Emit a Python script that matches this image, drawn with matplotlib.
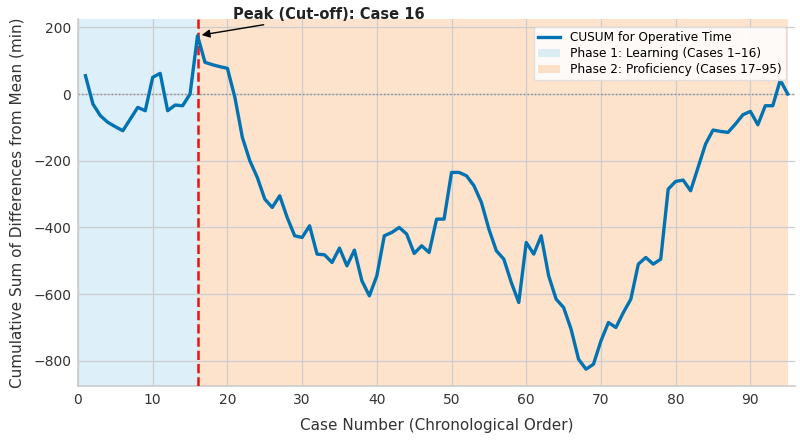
import numpy as np
import matplotlib.pyplot as plt

# CUSUM values, cases 1..95
cases = np.arange(1, 96)
cusum = [55, -30, -65, -85, -98, -110, -75, -40, -50, 50,
         62, -50, -33, -35, 0, 175, 95, 88, 82, 77,
         -10, -130, -200, -250, -315, -340, -305, -370, -425, -430,
         -395, -480, -482, -505, -462, -515, -468, -560, -605, -545,
         -425, -415, -400, -420, -478, -455, -475, -375, -375, -235,
         -235, -245, -275, -325, -405, -470, -495, -565, -625, -445,
         -480, -425, -545, -615, -640, -705, -795, -825, -810, -740,
         -685, -700, -655, -615, -510, -490, -510, -495, -285, -262,
         -258, -290, -220, -150, -108, -112, -115, -90, -62, -52,
         -92, -35, -35, 42, 0]
cutoff = 16
phase1 = (0, 16)
phase2 = (16, 95)
xticks = [0, 10, 20, 30, 40, 50, 60, 70, 80, 90]

fig = plt.figure(figsize=(8, 4.42), dpi=100)
ax = fig.add_axes([0.0975, 0.127, 0.8965, 0.83])

ax.grid(True, color='#cccccc', lw=0.9, zorder=0)
ax.axvspan(*phase1, color='#9fd3ee', alpha=0.35, lw=0, zorder=1,
           label='Phase 1: Learning (Cases 1\u201316)')
ax.axvspan(*phase2, color='#fbb57a', alpha=0.38, lw=0, zorder=1,
           label='Phase 2: Proficiency (Cases 17\u201395)')
ax.axhline(0, color='#888888', ls=':', lw=1, zorder=2)
ax.plot(cases, cusum, color='#0173b2', lw=2.4, zorder=4,
        label='CUSUM for Operative Time')
ax.axvline(cutoff, color='#ee1111', ls='--', lw=1.8, zorder=3)

ax.annotate('Peak (Cut-off): Case 16', xy=(cutoff, cusum[cutoff - 1]),
            xytext=(20.7, 240), ha='left', va='center',
            fontsize=10.5, fontweight='bold', color='#222222',
            arrowprops=dict(arrowstyle='-|>', color='black', lw=1,
                            mutation_scale=12, shrinkA=2, shrinkB=3),
            annotation_clip=False)

ax.set_xlim(0, 96)
ax.set_ylim(-875, 225)
ax.set_xticks(xticks)
ax.set_yticks([-800, -600, -400, -200, 0, 200])
ax.tick_params(length=0, labelsize=10, colors='#333333', pad=5)
for s in ['top', 'right']:
    ax.spines[s].set_visible(False)
for s in ['left', 'bottom']:
    ax.spines[s].set_color('#cccccc')
    ax.spines[s].set_linewidth(1.2)

ax.set_xlabel('Case Number (Chronological Order)', fontsize=11,
              color='#333333', labelpad=8)
ax.set_ylabel('Cumulative Sum of Differences from Mean (min)', fontsize=11,
              color='#333333', labelpad=6)

h, l = ax.get_legend_handles_labels()
order = [2, 0, 1]
ax.legend([h[i] for i in order], [l[i] for i in order], loc='upper right',
          fontsize=8.7, frameon=True, framealpha=0.85, edgecolor='#dddddd',
          labelspacing=0.25, borderpad=0.35, handlelength=1.8,
          bbox_to_anchor=(0.995, 0.995))

fig.savefig('out.png', dpi=100)
